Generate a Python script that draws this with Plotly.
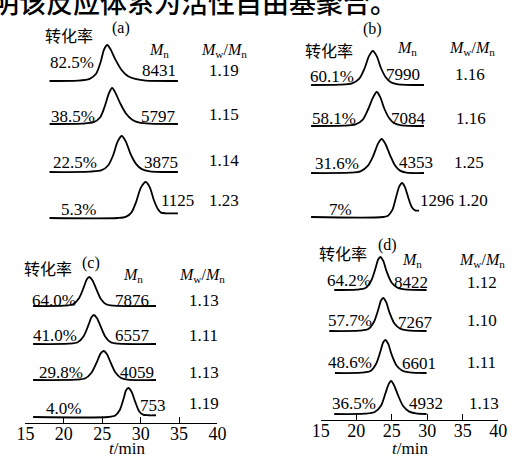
import plotly.graph_objects as go

W, H = 516, 459
SERIF = "Liberation Serif, Times New Roman, serif"
CJK = "Noto Sans CJK SC"

# ---------------------------------------------------------------------------
# GPC traces: elution time (min) and normalised detector signal
# ---------------------------------------------------------------------------
a_time = [
    [16, 19.5, 21.0, 21.8, 22.4, 22.8, 23.2, 23.6, 24.2, 25.0, 25.8, 26.8, 28.0, 32],
    [16, 20.0, 21.5, 22.3, 22.9, 23.4, 23.8, 24.2, 24.8, 25.5, 26.3, 27.2, 28.5, 32],
    [16, 21.0, 22.5, 23.3, 23.9, 24.5, 25.0, 25.5, 26.1, 26.8, 27.5, 28.5, 32],
    [16, 24.5, 25.5, 26.2, 26.8, 27.4, 28.0, 28.5, 29.0, 29.5, 29.9, 30.5, 32],
]
a_signal = [
    [0, 0.01, 0.06, 0.20, 0.55, 0.88, 1, 0.88, 0.60, 0.30, 0.13, 0.05, 0.01, 0],
    [0, 0.01, 0.05, 0.18, 0.50, 0.85, 1, 0.87, 0.58, 0.30, 0.12, 0.04, 0.01, 0],
    [0, 0.01, 0.05, 0.18, 0.45, 0.85, 1, 0.85, 0.50, 0.22, 0.08, 0.02, 0],
    [0, 0, 0.03, 0.15, 0.45, 0.85, 1, 0.85, 0.50, 0.25, 0.15, 0.13, 0.13],
]
a_conv = ["82.5%", "38.5%", "22.5%", "5.3%"]
a_mn = ["8431", "5797", "3875", "1125"]
a_pdi = ["1.19", "1.15", "1.14", "1.23"]

b_time = [
    [16, 20.0, 21.8, 22.8, 23.6, 24.2, 24.75, 25.3, 25.9, 26.6, 27.3, 28.3, 32],
    [16, 20.5, 22.3, 23.3, 24.1, 24.8, 25.3, 25.8, 26.4, 27.1, 27.8, 28.8, 32],
    [16, 21.5, 23.0, 24.0, 24.8, 25.5, 26.0, 26.5, 27.2, 27.9, 28.6, 29.5, 32],
    [16, 26.2, 26.9, 27.5, 28.0, 28.5, 28.9, 29.3, 29.8, 30.3, 30.8, 31.3],
]
b_signal = [
    [0, 0.01, 0.05, 0.18, 0.50, 0.85, 1, 0.85, 0.50, 0.22, 0.08, 0.02, 0],
    [0, 0.01, 0.05, 0.18, 0.50, 0.85, 1, 0.85, 0.50, 0.22, 0.08, 0.02, 0],
    [0, 0.01, 0.05, 0.20, 0.50, 0.87, 1, 0.87, 0.52, 0.22, 0.07, 0.01, 0],
    [0, 0, 0.04, 0.20, 0.55, 0.90, 1, 0.88, 0.55, 0.28, 0.19, 0.19],
]
b_conv = ["60.1%", "58.1%", "31.6%", "7%"]
b_mn = ["7990", "7084", "4353", "1296"]
b_pdi = ["1.16", "1.16", "1.25", "1.20"]

c_time = [
    [16, 20.0, 21.2, 22.0, 22.6, 23.0, 23.3, 23.7, 24.2, 24.8, 25.5, 26.5, 32],
    [16, 20.6, 21.8, 22.6, 23.2, 23.6, 23.9, 24.3, 24.8, 25.4, 26.1, 27.1, 32],
    [16, 21.5, 22.8, 23.6, 24.3, 24.8, 25.2, 25.6, 26.1, 26.7, 27.4, 28.3, 32],
    [16, 25.8, 26.7, 27.3, 27.8, 28.1, 28.4, 28.8, 29.3, 29.8, 30.3, 31.0, 32],
]
c_signal = [
    [0, 0.01, 0.06, 0.28, 0.65, 0.92, 1, 0.90, 0.60, 0.25, 0.06, 0.01, 0],
    [0, 0.01, 0.06, 0.28, 0.65, 0.92, 1, 0.90, 0.60, 0.25, 0.06, 0.01, 0],
    [0, 0.01, 0.06, 0.25, 0.62, 0.92, 1, 0.90, 0.60, 0.27, 0.08, 0.01, 0],
    [0, 0, 0.05, 0.25, 0.65, 0.92, 1, 0.88, 0.52, 0.20, 0.08, 0.06, 0.06],
]
c_conv = ["64.0%", "41.0%", "29.8%", "4.0%"]
c_mn = ["7876", "6557", "4059", "753"]
c_pdi = ["1.13", "1.11", "1.13", "1.19"]

d_time = [
    [16.9, 20.0, 21.3, 22.1, 22.7, 23.1, 23.4, 23.8, 24.3, 25.0, 25.8, 26.8, 29.9],
    [16.2, 20.4, 21.7, 22.5, 23.1, 23.5, 23.8, 24.2, 24.7, 25.4, 26.2, 27.2, 29.9],
    [17.0, 20.7, 22.0, 22.8, 23.4, 23.8, 24.1, 24.5, 25.0, 25.7, 26.5, 27.5, 29.9],
    [16.9, 21.2, 22.6, 23.5, 24.1, 24.6, 24.9, 25.3, 25.9, 26.6, 27.4, 28.4, 29.9],
]
d_signal = [
    [0, 0.01, 0.06, 0.28, 0.65, 0.93, 1, 0.88, 0.55, 0.22, 0.07, 0.02, 0],
    [0, 0.01, 0.06, 0.28, 0.65, 0.93, 1, 0.88, 0.55, 0.22, 0.07, 0.02, 0],
    [0, 0.01, 0.06, 0.28, 0.65, 0.93, 1, 0.88, 0.55, 0.22, 0.07, 0.02, 0],
    [0, 0.01, 0.06, 0.26, 0.62, 0.92, 1, 0.88, 0.56, 0.24, 0.08, 0.02, 0],
]
d_conv = ["64.2%", "57.7%", "48.6%", "36.5%"]
d_mn = ["8422", "7267", "6601", "4932"]
d_pdi = ["1.12", "1.10", "1.11", "1.13"]

time_ticks = [15, 20, 25, 30, 35, 40]

# ---------------------------------------------------------------------------
# panel geometry (pixels in the 516 x 459 page)
# ---------------------------------------------------------------------------
panels = {
    "a": dict(time=a_time, sig=a_signal, conv=a_conv, mn=a_mn, pdi=a_pdi,
              base=[81, 124, 172, 218], amp=36,
              conv_xy=[(65, 63), (66, 116), (68, 162), (72, 210)],
              mn_xy=[(155, 70), (155, 117), (157, 162), (175, 200)],
              pdi_xy=[(223, 70), (223, 115), (223, 160), (223, 200)],
              head=dict(title=(62, 35), tag=(116, 28), mn=(155, 50), pdi=(223, 50))),
    "b": dict(time=b_time, sig=b_signal, conv=b_conv, mn=b_mn, pdi=b_pdi,
              base=[85, 126, 173, 217], amp=34,
              conv_xy=[(335, 76), (337, 118), (340, 163), (343, 210)],
              mn_xy=[(408, 75), (414, 118), (422, 162), (443, 200)],
              pdi_xy=[(478, 75), (479, 118), (477, 162), (481, 200)],
              head=dict(title=(332, 50), tag=(377, 29), mn=(412, 49), pdi=(480, 49))),
    "c": dict(time=c_time, sig=c_signal, conv=c_conv, mn=c_mn, pdi=c_pdi,
              base=[306, 344, 380, 417], amp=29,
              conv_xy=[(47, 300), (48, 335), (54, 372), (56, 408)],
              mn_xy=[(127, 300), (128, 335), (133, 372), (149, 405)],
              pdi_xy=[(202, 300), (202, 335), (202, 372), (202, 403)],
              head=dict(title=(40, 268), tag=(85, 263), mn=(128, 275), pdi=(200, 275))),
    "d": dict(time=d_time, sig=d_signal, conv=d_conv, mn=d_mn, pdi=d_pdi,
              base=[290, 331, 373, 414], amp=33,
              conv_xy=[(352, 280), (353, 320), (353, 362), (357, 403)],
              mn_xy=[(417, 282), (421, 322), (425, 363), (432, 403)],
              pdi_xy=[(490, 282), (490, 320), (490, 362), (492, 403)],
              head=dict(title=(346, 253), tag=(392, 245), mn=(418, 260), pdi=(490, 260))),
}

fig = go.Figure()
annotations = []


def text(s, xp, yp, size=17, family=SERIF, xanchor="center", yanchor="middle", weight=None):
    font = dict(family=family, size=size, color="black")
    if weight is not None:
        font["weight"] = weight
    annotations.append(dict(text=s, x=xp / W, y=1 - yp / H, xref="paper", yref="paper",
                            showarrow=False, xanchor=xanchor, yanchor=yanchor,
                            borderpad=0, font=font))


axis_ids = {"a": ("x", "y"), "b": ("x2", "y2"), "c": ("x3", "y3"), "d": ("x4", "y4")}

for key, p in panels.items():
    xa, ya = axis_ids[key]
    for row in range(4):
        y0 = H - p["base"][row]
        fig.add_trace(go.Scatter(
            x=p["time"][row],
            y=[y0 + p["amp"] * v for v in p["sig"][row]],
            mode="lines", line=dict(color="black", width=1.8, shape="spline", smoothing=0.8),
            xaxis=xa, yaxis=ya, hoverinfo="skip", showlegend=False))
        text(p["conv"][row], *p["conv_xy"][row])
        text(p["mn"][row], *p["mn_xy"][row])
        text(p["pdi"][row], *p["pdi_xy"][row])
    hd = p["head"]
    text("转化率", *hd["title"], size=16, family=CJK)
    text(f"({key})", *hd["tag"], size=16)
    text("<i>M</i><sub>n</sub>", *hd["mn"], size=16)
    text("<i>M</i><sub>w</sub>/<i>M</i><sub>n</sub>", *hd["pdi"], size=16)

# axis titles of the lower panels
text("<i>t</i>/min", 122, 459, size=17, yanchor="bottom")
text("<i>t</i>/min", 415, 459, size=17, yanchor="bottom")

# running text line above the figure
text("说明该反应体系为活性自由基聚合。", -47, 2, size=27, family=CJK, xanchor="left", weight=500)


def hidden_x(px16, px32, dom0, dom1):
    scale = (px32 - px16) / 16.0
    return dict(visible=False, domain=[dom0 / W, dom1 / W],
                range=[16 - (px16 - dom0) / scale, 16 + (dom1 - px16) / scale])


def time_axis(px15, px40, anchor):
    return dict(domain=[px15 / W, px40 / W], range=[15, 40], anchor=anchor,
                showline=True, linecolor="black", linewidth=1.3,
                ticks="inside", ticklen=6, tickwidth=1.3, tickcolor="black",
                tickvals=time_ticks, ticktext=[str(v) for v in time_ticks],
                tickfont=dict(family=SERIF, size=18, color="black"),
                ticklabelstandoff=-6,
                showgrid=False, zeroline=False, fixedrange=True)


def y_axis(top_px, bottom_px, anchor):
    return dict(visible=False, domain=[(H - bottom_px) / H, (H - top_px) / H],
                range=[H - bottom_px, H - top_px], anchor=anchor, fixedrange=True)


fig.update_layout(
    width=W, height=H, autosize=False,
    margin=dict(l=0, r=0, t=0, b=0, pad=0),
    paper_bgcolor="white", plot_bgcolor="rgba(0,0,0,0)",
    xaxis=hidden_x(42, 175, 0, 260),
    xaxis2=hidden_x(313, 430, 260, W),
    xaxis3=time_axis(17, 216, "y3"),
    xaxis4=time_axis(323, 507, "y4"),
    yaxis=y_axis(0, 240, "x"),
    yaxis2=y_axis(0, 240, "x2"),
    yaxis3=y_axis(240, 423, "x3"),
    yaxis4=y_axis(240, 420, "x4"),
    annotations=annotations,
)

fig.write_html("out.html")
